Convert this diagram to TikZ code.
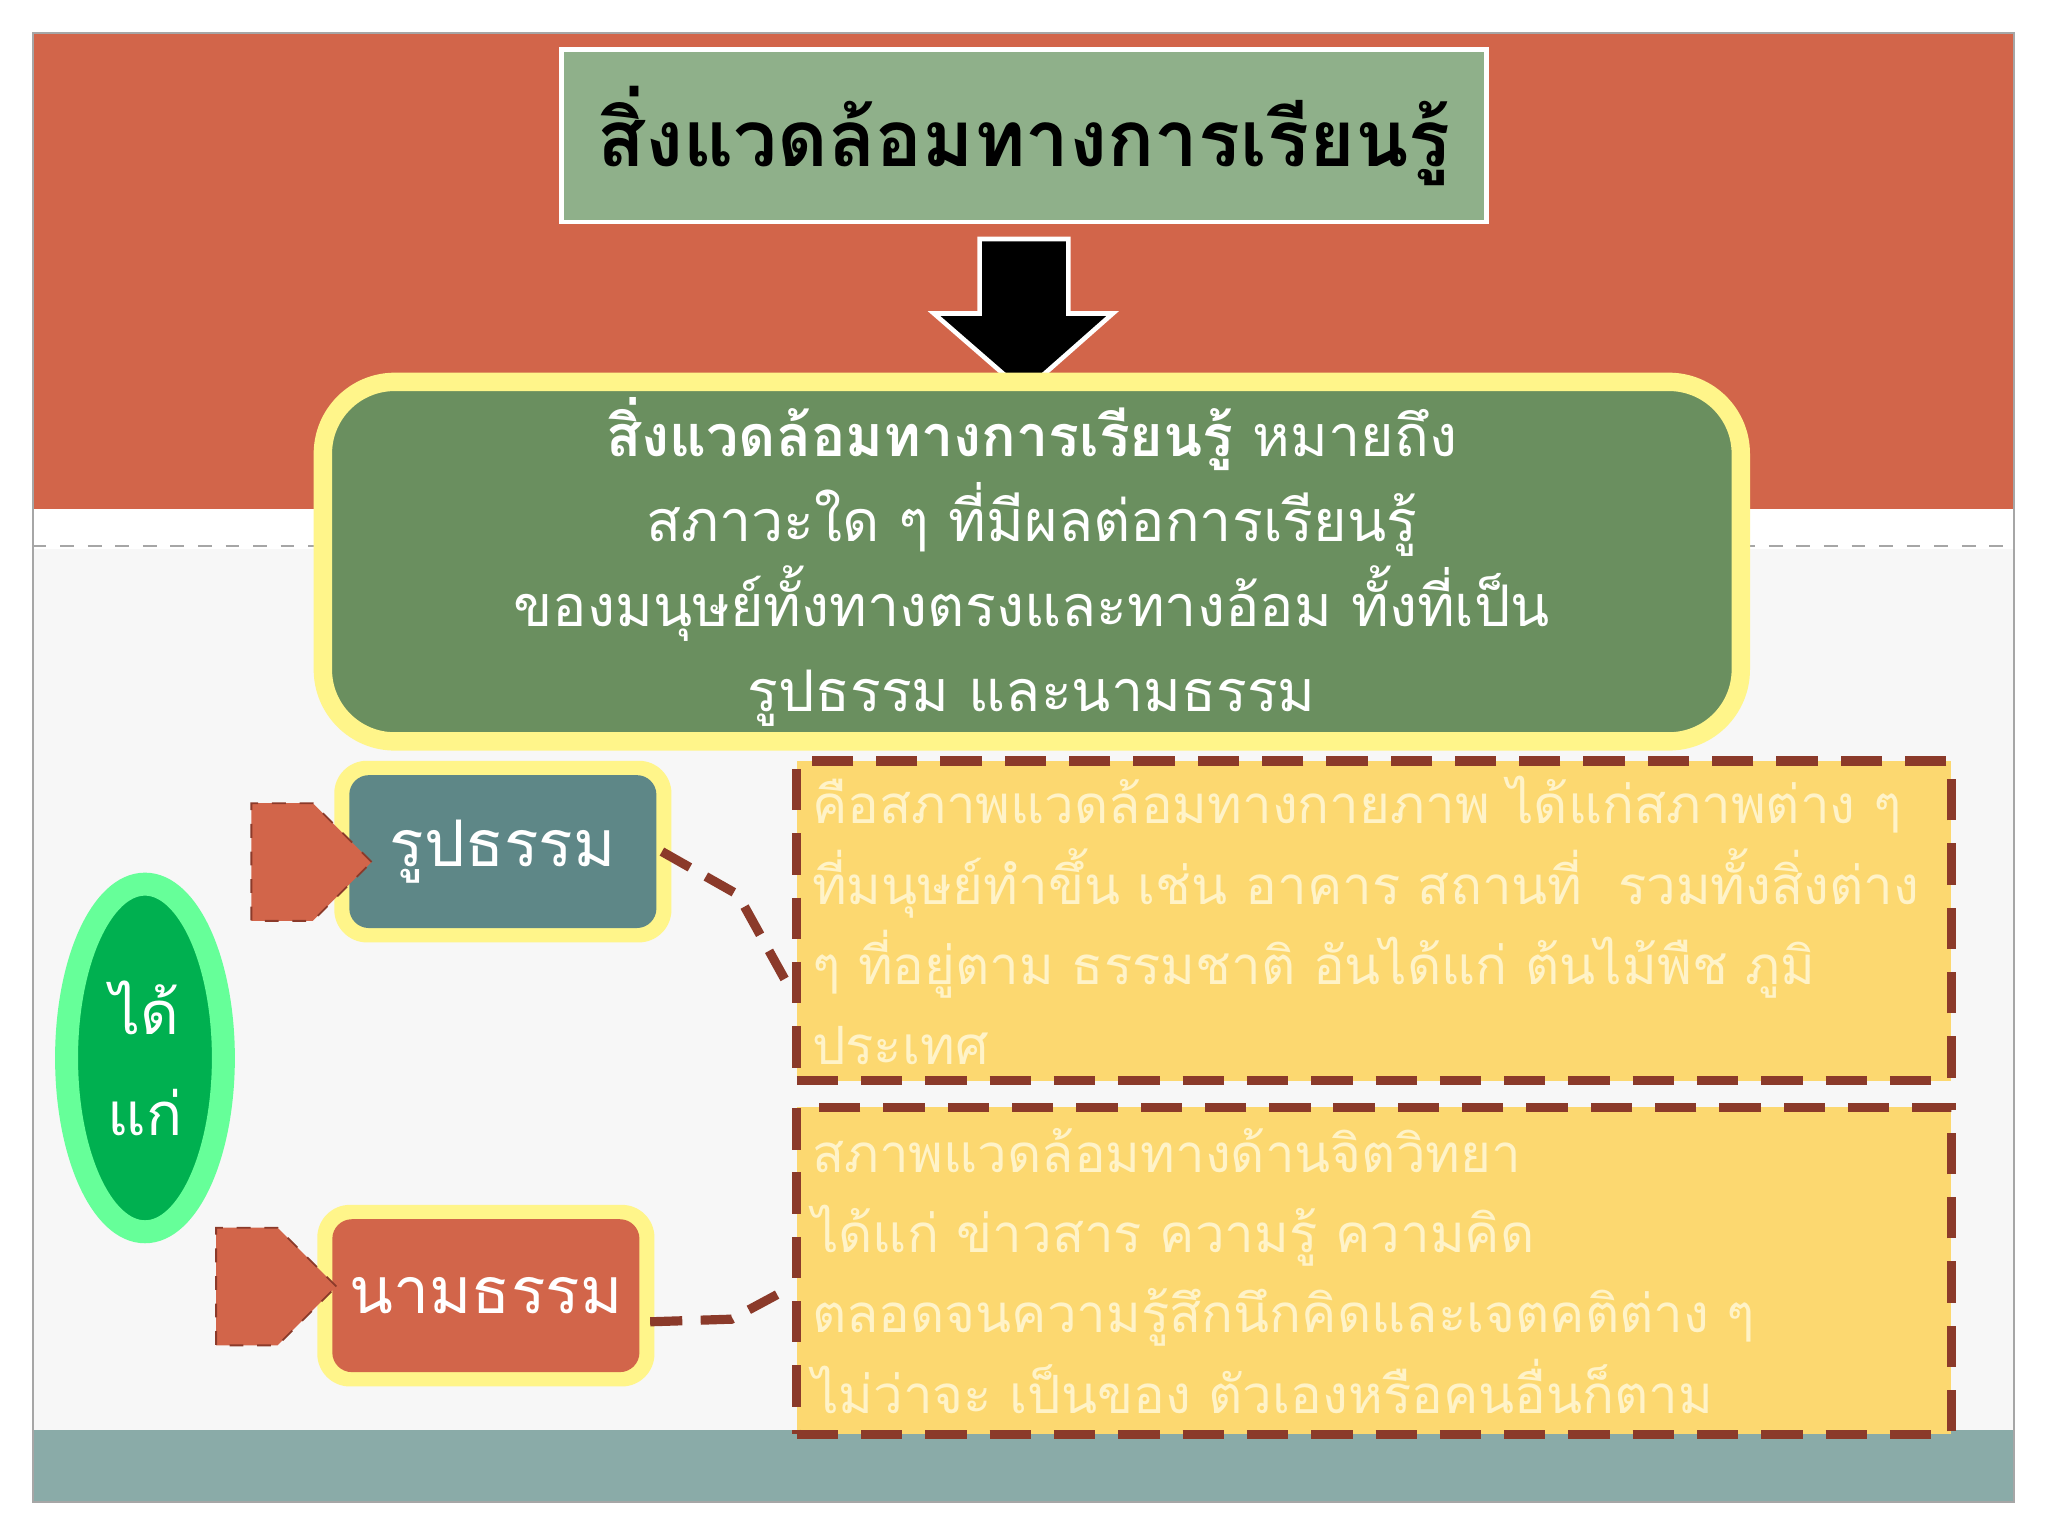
\documentclass[tikz,border=0pt]{standalone}
\usepackage{fontspec}
\newfontfamily\thai[Script=Thai]{Loma}
\usetikzlibrary{shapes.geometric,shapes.arrows}
\definecolor{org}{HTML}{D2654A}
\definecolor{teal}{HTML}{8AABA8}
\definecolor{titlef}{HTML}{8FB08A}
\definecolor{deff}{HTML}{6A8F5F}
\definecolor{yel}{HTML}{FFF58A}
\definecolor{boxt}{HTML}{5E8787}
\definecolor{gold}{HTML}{FCD870}
\definecolor{brown}{HTML}{8B3A2A}
\definecolor{txtl}{HTML}{FFF3C8}
\definecolor{grn}{HTML}{00B050}
\definecolor{lgrn}{HTML}{66FF99}
\tikzset{
 dashbox/.style={draw=brown,line width=2pt,dash pattern=on 9pt off 5pt,fill=gold},
 conn/.style={draw=brown,line width=2pt,dash pattern=on 7pt off 4pt},
 blockarr/.style={single arrow,draw=brown,dashed,fill=org,minimum height=0.92cm,minimum width=0.9cm,single arrow head extend=0cm,single arrow tip angle=90,inner sep=0pt,shape border uses incircle},
}
\begin{document}
\begin{tikzpicture}[x=0.01cm,y=-0.01cm,font=\thai]
\useasboundingbox (0,0) rectangle (1568,1176);
\fill[white] (0,0) rectangle (1568,1176);
\fill[gray!6] (25,420) rectangle (1542,1095);
\fill[org] (25,25) rectangle (1542,390);
\draw[gray!70,dashed] (25,418) -- (1542,418);
\fill[teal] (25,1095) rectangle (1542,1150);
\draw[gray!70] (25,25) rectangle (1542,1150);
% title
\node[draw=white,line width=1pt,fill=titlef,minimum width=7.08cm,minimum height=1.32cm,font=\thai\bfseries\fontsize{17}{20}\selectfont] (title) at (784,104) {สิ่งแวดล้อมทางการเรียนรู้};
% arrow
\draw[white,fill=black,line width=1pt] (750,183) -- (818,183) -- (818,240) -- (852,240) -- (784,300) -- (715,240) -- (750,240) -- cycle;
% definition
\node[draw=yel,line width=4pt,fill=deff,rounded corners=0.55cm,minimum width=10.85cm,minimum height=2.35cm,text width=10.3cm,align=center,text=white,font=\thai\fontsize{12.5}{18.5}\selectfont] (def) at (790,430) {\textbf{สิ่งแวดล้อมทางการเรียนรู้} หมายถึง สภาวะใด ๆ ที่มีผลต่อการเรียนรู้ ของมนุษย์ทั้งทางตรงและทางอ้อม ทั้งที่เป็น\\ รูปธรรม และนามธรรม};
% concrete boxes
\node[fill=yel,rounded corners=0.25cm,minimum width=2.58cm,minimum height=1.39cm] (c1o) at (385,652) {};
\node[fill=boxt,rounded corners=0.15cm,minimum width=2.35cm,minimum height=1.17cm,text=white,font=\thai\fontsize{14}{16}\selectfont] (c1) at (385,652) {รูปธรรม};
\node[fill=yel,rounded corners=0.25cm,minimum width=2.58cm,minimum height=1.39cm] (c2o) at (372,992) {};
\node[fill=org,rounded corners=0.15cm,minimum width=2.35cm,minimum height=1.17cm,text=white,font=\thai\fontsize{14}{16}\selectfont] (c2) at (372,992) {นามธรรม};
% block arrows
\node[blockarr] (a1) at (216,660) {};
\node[blockarr] (a2) at (189,985) {};
% ellipse
\node[ellipse,draw=lgrn,line width=5pt,fill=grn,minimum width=1.2cm,minimum height=2.66cm,align=center,text=white,font=\thai\fontsize{13}{22}\selectfont] (e) at (111,810) {ได้\\แก่};
% detail boxes
\node[dashbox,minimum width=8.79cm,minimum height=2.36cm,text width=8.6cm,align=left,text=txtl,font=\thai\fontsize{11.5}{17.5}\selectfont] (d1) at (1052,705) {คือสภาพแวดล้อมทางกายภาพ ได้แก่สภาพต่าง ๆ ที่มนุษย์ทำขึ้น เช่น อาคาร สถานที่ \ รวมทั้งสิ่งต่าง ๆ ที่อยู่ตาม ธรรมชาติ อันได้แก่ ต้นไม้พืช ภูมิ ประเทศ};
\node[dashbox,minimum width=8.79cm,minimum height=2.5cm,text width=8.6cm,align=left,text=txtl,font=\thai\fontsize{11.5}{17.5}\selectfont] (d2) at (1052,973) {สภาพแวดล้อมทางด้านจิตวิทยา ได้แก่ ข่าวสาร ความรู้ ความคิด ตลอดจนความรู้สึกนึกคิดและเจตคติต่าง ๆ ไม่ว่าจะ เป็นของ ตัวเองหรือคนอื่นก็ตาม};
% connectors
\draw[conn] (c1o.east) ++(-8,0) -- (565,685) -- (d1.west |- 0,760);
\draw[conn] (c2o.east) ++(-4,20) -- (560,1010) -- (d2.west |- 0,985);
\end{tikzpicture}
\end{document}
